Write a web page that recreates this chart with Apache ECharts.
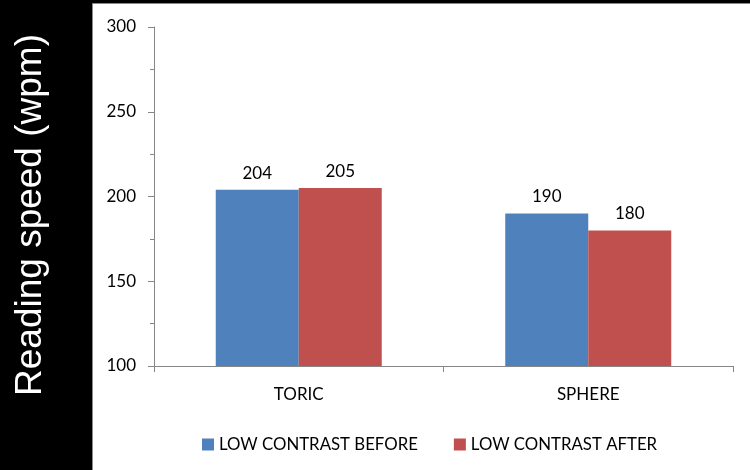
<!DOCTYPE html>
<html>
<head>
<meta charset="utf-8">
<script src="https://cdn.jsdelivr.net/npm/echarts@6/dist/echarts.min.js"></script>
<style>
  html, body { margin: 0; padding: 0; background: #000; }
  #chart { width: 750px; height: 470px; }
</style>
</head>
<body>
<div id="chart"></div>
<script>
// Reading speed by lens type, before/after, at low contrast
const categories = ['TORIC', 'SPHERE'];
const seriesNames = ['LOW CONTRAST BEFORE', 'LOW CONTRAST AFTER'];
const lowContrastBefore = [204, 190];
const lowContrastAfter = [205, 180];
const yTicks = { min: 100, max: 300, step: 50 };
const yTitle = 'Reading speed (wpm)';

const FONT = 'Lato';
const chart = echarts.init(document.getElementById('chart'), null, { renderer: 'canvas' });

const labelStyle = {
  show: true,
  position: 'top',
  distance: 8,
  color: '#000',
  fontFamily: FONT,
  fontSize: 17
};

chart.setOption({
  backgroundColor: '#000',
  animation: false,
  graphic: [
    {
      type: 'rect',
      shape: { x: 92.5, y: 3.5, width: 660, height: 470 },
      style: { fill: '#fff', stroke: '#8a8a8a', lineWidth: 1 },
      z: -10
    },
    {
      type: 'text',
      x: 31,
      y: 215,
      rotation: Math.PI / 2,
      style: {
        text: yTitle,
        fill: '#fff',
        font: '37px "Liberation Sans", Arial, sans-serif',
        align: 'center',
        verticalAlign: 'middle'
      }
    }
  ],
  grid: { left: 154, top: 27, right: 17, bottom: 104, containLabel: false },
  legend: {
    data: seriesNames,
    left: 197,
    top: 431,
    icon: 'rect',
    itemWidth: 12,
    itemHeight: 12,
    itemGap: 36,
    textStyle: { color: '#000', fontFamily: FONT, fontSize: 16.8 }
  },
  xAxis: {
    type: 'category',
    data: categories,
    axisLine: { lineStyle: { color: '#868686', width: 1 } },
    axisTick: { show: true, length: 6, lineStyle: { color: '#868686' } },
    axisLabel: { color: '#000', fontFamily: FONT, fontSize: 17, margin: 20 }
  },
  yAxis: {
    type: 'value',
    min: yTicks.min,
    max: yTicks.max,
    interval: yTicks.step,
    axisLine: { show: true, lineStyle: { color: '#868686', width: 1 } },
    axisTick: { show: true, length: 6, lineStyle: { color: '#868686' } },
    minorTick: { show: true, splitNumber: 2, length: 4, lineStyle: { color: '#868686' } },
    splitLine: { show: false },
    axisLabel: { color: '#000', fontFamily: FONT, fontSize: 17, margin: 18 }
  },
  series: [
    {
      name: seriesNames[0],
      type: 'bar',
      data: lowContrastBefore,
      itemStyle: { color: '#4F81BD' },
      barWidth: 83,
      barGap: '0%',
      label: labelStyle
    },
    {
      name: seriesNames[1],
      type: 'bar',
      data: lowContrastAfter,
      itemStyle: { color: '#C0504D' },
      barWidth: 83,
      barGap: '0%',
      label: labelStyle
    }
  ]
});
</script>
</body>
</html>
